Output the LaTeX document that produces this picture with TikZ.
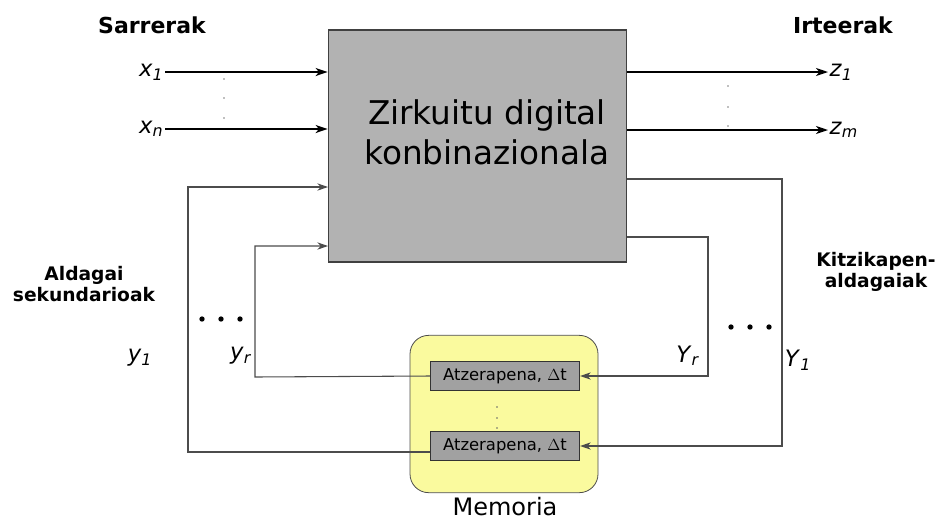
\documentclass[tikz,border=0pt]{standalone}
\usepackage{fontspec}
\setmainfont{DejaVu Sans}
\usepackage{xcolor}
\usepackage{tikz}
\usetikzlibrary{positioning,arrows.meta}
\definecolor{memyellow}{rgb}{0.98,0.98,0.62}
\definecolor{boxgray}{rgb}{0.70,0.70,0.70}
\definecolor{delaygray}{rgb}{0.63,0.63,0.63}
\newcommand{\var}[2]{\textit{#1}\textsubscript{\textit{#2}}}

\begin{document}
\begin{tikzpicture}[x=0.75pt,y=-0.75pt]
    \useasboundingbox (0,0) rectangle (942,519);

    \tikzstyle{title}=[font=\fontsize{16.5}{19}\selectfont\bfseries,align=center]
    \tikzstyle{side}=[font=\fontsize{14}{16}\selectfont\bfseries,align=center]
    \tikzstyle{var}=[font=\fontsize{17}{19}\selectfont,inner sep=1pt]
    \tikzstyle{comb}=[draw=black!75,fill=boxgray,line width=0.8pt,minimum width=224pt,minimum height=174pt]
    \tikzstyle{delay}=[draw=black!80,fill=delaygray,line width=0.7pt,minimum width=112pt,minimum height=21.5pt,font=\fontsize{12.3}{14}\selectfont,inner sep=0pt]
    \tikzstyle{mem}=[draw=black!70,fill=memyellow,line width=0.6pt,rounded corners=14pt,minimum width=141pt,minimum height=118pt]

    % blocks
    \node[comb]  (zc) at (477.5,146) {};
    \node[font=\fontsize{24.5}{30}\selectfont,align=center] (zctext) at (487,132) {Zirkuitu digital\\konbinazionala};
    \node[mem]   (mem) at (504,414) {};
    \node[delay] (d1) at (505,376) {Atzerapena, $\Delta$t};
    \node[delay] (d2) at (505,446) {Atzerapena, $\Delta$t};
    \node[font=\fontsize{18}{20}\selectfont,anchor=base,inner sep=0pt] (memlbl) at (505,515) {Memoria};

    % titles
    \node[title] (sar) at (152,25) {Sarrerak};
    \node[title] (irt) at (843,25) {Irteerak};
    \node[side] (ald) at (84,284) {Aldagai\\sekundarioak};
    \node[side] (kitz) at (876,272) {Kitzikapen-\\aldagaiak};

    % variables
    \node[var,anchor=east] (x1) at (165,72) {\var{x}{1}};
    \node[var,anchor=east] (xn) at (165,129) {\var{x}{n}};
    \node[var,anchor=west] (z1) at (828,72) {\var{z}{1}};
    \node[var,anchor=west] (zm) at (828,130) {\var{z}{m}};
    \node[var] (y1) at (140,358) {\var{y}{1}};
    \node[var] (yr) at (241,356) {\var{y}{r}};
    \node[var] (Yr) at (688,356) {\var{Y}{r}};
    \node[var] (Y1) at (798,360) {\var{Y}{1}};

    % loop corners
    \coordinate (y1in) at (328,187);
    \coordinate (yrin) at (328,246);
    \coordinate (y1c) at (188,452);
    \coordinate (yrc) at (255,377);
    \coordinate (Y1out) at (627,179);
    \coordinate (Yrout) at (627,237);
    \coordinate (Y1c) at (782,446);
    \coordinate (Yrc) at (708,376);

    \tikzstyle{fwd} = [draw=black, line width=1.2pt, -{Stealth[length=9pt,width=6pt,inset=2.5pt]}]
    \tikzstyle{fb} = [draw=black!70, line width=0.8pt, -{Stealth[length=8pt,width=5.5pt,inset=2.5pt]}]

          \draw [fwd] (x1.east) -- (x1.east -| zc.west);
          \draw [fwd] (xn.east) -- (xn.east -| zc.west);
          \draw [fwd] (z1.west -| zc.east) -- (z1.west);
          \draw [fwd] (zm.west -| zc.east) -- (zm.west);

          \draw [fb] (d2.west |- y1c) -- (y1c) |- (y1in);
          \draw [fb] (d1.west) -- (yrc) |- (yrin);
          \draw [fb] (Y1out) -| (Y1c) -- (d2.east);
          \draw [fb] (Yrout) -| (Yrc) -- (d1.east);

    % dots
    \foreach \yy in {79,98,118} \fill[black!50] (224,\yy) circle (0.6pt);
    \foreach \yy in {86,107,126} \fill[black!50] (728,\yy) circle (0.6pt);
    \foreach \yy in {407,418,428} \fill[black!60] (497,\yy) circle (0.6pt);
    \foreach \xx in {202,221,240} \fill (\xx,319) circle (2pt);
    \foreach \xx in {731,750,769} \fill (\xx,327) circle (2pt);

  \end{tikzpicture}
\end{document}
